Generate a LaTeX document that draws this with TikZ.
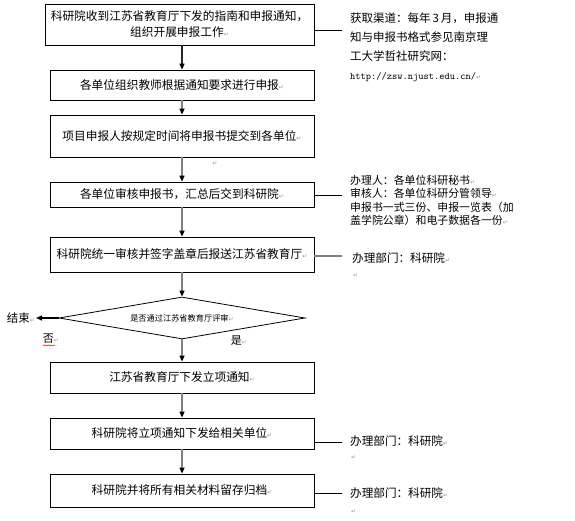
\documentclass[tikz,border=0pt]{standalone}
\usepackage{fontspec}
\setmainfont{Noto Sans CJK SC}
\newfontfamily\symfont{DejaVu Sans}
\usetikzlibrary{arrows.meta,shapes.geometric,decorations.pathmorphing}
\definecolor{linegray}{RGB}{128,128,128}
\definecolor{markgray}{RGB}{150,150,150}
\newcommand{\pmark}{{\symfont\fontsize{6}{6}\selectfont\textcolor{markgray}{↵}}}

\begin{document}
\begin{tikzpicture}[x=1pt,y=-1pt,
  stepbox/.style={draw, line width=0.8pt, minimum width=264pt, inner sep=0pt,
    font=\fontsize{11.7}{16}\selectfont, align=center},
  decide/.style={draw, shape=diamond, aspect=6, line width=0.8pt, minimum width=246pt,
    minimum height=42pt, inner sep=0pt, font=\fontsize{8.2}{10}\selectfont},
  flow/.style={draw=linegray, line width=1.4pt,
    -{Triangle[color=black,length=6pt,width=5pt]}},
  tie/.style={line width=0.8pt},
  note/.style={anchor=west, align=left, inner sep=0pt},
  squiggle/.style={red, line width=0.5pt, decorate,
    decoration={snake, amplitude=0.6pt, segment length=2.5pt}}]
  \useasboundingbox (0,0) rectangle (575,521);

  % main flow
  \node[stepbox, minimum width=269pt, minimum height=41pt] (b1) at (179.5,24.5)
    {科研院收到江苏省教育厅下发的指南和申报通知，\\组织开展申报工作\pmark};
  \node[stepbox, minimum height=30pt] (b2) at (182,85) {各单位组织教师根据通知要求进行申报\pmark};
  \node[stepbox, minimum height=42pt] (b3) at (182,136) {项目申报人按规定时间将申报书提交到各单位\pmark};
  \node[stepbox, minimum height=25pt] (b4) at (182,194.5) {各单位审核申报书，汇总后交到科研院\pmark};
  \node[stepbox, minimum height=35pt] (b5) at (182,254.5) {科研院统一审核并签字盖章后报送江苏省教育厅\pmark};
  \node[decide] (dec) at (182,318) {是否通过江苏省教育厅评审\pmark};
  \node[stepbox, minimum height=31pt] (b6) at (182,377.5) {江苏省教育厅下发立项通知\pmark};
  \node[stepbox, minimum height=31pt] (b7) at (182,433.5) {科研院将立项通知下发给相关单位\pmark};
  \node[stepbox, minimum height=33pt] (b8) at (182,490.5) {科研院并将所有相关材料留存归档\pmark};

  \draw[flow, draw=black!85] (b1.south -| b2) -- (b2.north);
  \draw[flow] (b2) -- (b3);
  \draw[flow] (b3) -- (b4);
  \draw[flow] (b4) -- (b5);
  \draw[flow] (b5) -- (dec);
  \draw[flow] (dec) -- (b6);
  \draw[flow] (b6) -- (b7);
  \draw[flow] (b7) -- (b8);
  \node[font=\fontsize{11.5}{12}\selectfont] (m3) at (215,164) {\pmark};

  % decision branches
  \node[anchor=east, inner sep=1pt, font=\fontsize{11.5}{12}\selectfont] (fin) at (36,318) {结束\pmark};
  \draw[flow, draw=black] (dec.west) -- (fin.east);
  \node[inner sep=0pt, font=\fontsize{11}{12}\selectfont] (no) at (51,339) {否\pmark};
  \draw[squiggle] ([yshift=-1.5pt]no.south west) -- ++(12,0);
  \node[inner sep=0pt, font=\fontsize{11}{12}\selectfont] (yes) at (239,341) {是\pmark};

  % side notes
  \coordinate (t1) at (342,30);
  \draw[tie] (b1.east |- t1) -- (t1);
  \node[note, font=\fontsize{11.5}{19}\selectfont] (n1) at (350,47.5)
    {获取渠道：每年\,3\,月，申报通\\知与申报书格式参见南京理\\工大学哲社研究网：\\
     {\ttfamily\fontsize{10}{19}\selectfont http://zsw.njust.edu.cn/}\pmark};

  \coordinate (t4) at (342,195);
  \draw[tie] (b4.east |- t4) -- (t4);
  \node[note, font=\fontsize{10.9}{13.6}\selectfont] (n4) at (350,200.5)
    {办理人：各单位科研秘书\pmark\\审核人：各单位科研分管领导\pmark\\
     申报书一式三份、申报一览表（加\\盖学院公章）和电子数据各一份\pmark};

  \coordinate (t5) at (342,256);
  \draw[tie, draw=linegray, line width=1.4pt] (b5.east |- t5) -- (t5);
  \node[note, font=\fontsize{11.6}{12}\selectfont] (n5) at (352,258) {办理部门：科研院\pmark};
  \node[note] (m5) at (353,276) {\pmark};

  \coordinate (t7) at (342,442);
  \draw[tie] (b7.east |- t7) -- (t7);
  \node[note, font=\fontsize{11.6}{12}\selectfont] (n7) at (350,441) {办理部门：科研院\pmark};
  \node[note] (m7) at (351,458) {\pmark};

  \coordinate (t8) at (342,493);
  \draw[tie] (b8.east |- t8) -- (t8);
  \node[note, font=\fontsize{11.6}{12}\selectfont] (n8) at (350,493) {办理部门：科研院\pmark};
  \node[note] (m8) at (351,512) {\pmark};
\end{tikzpicture}
\end{document}
